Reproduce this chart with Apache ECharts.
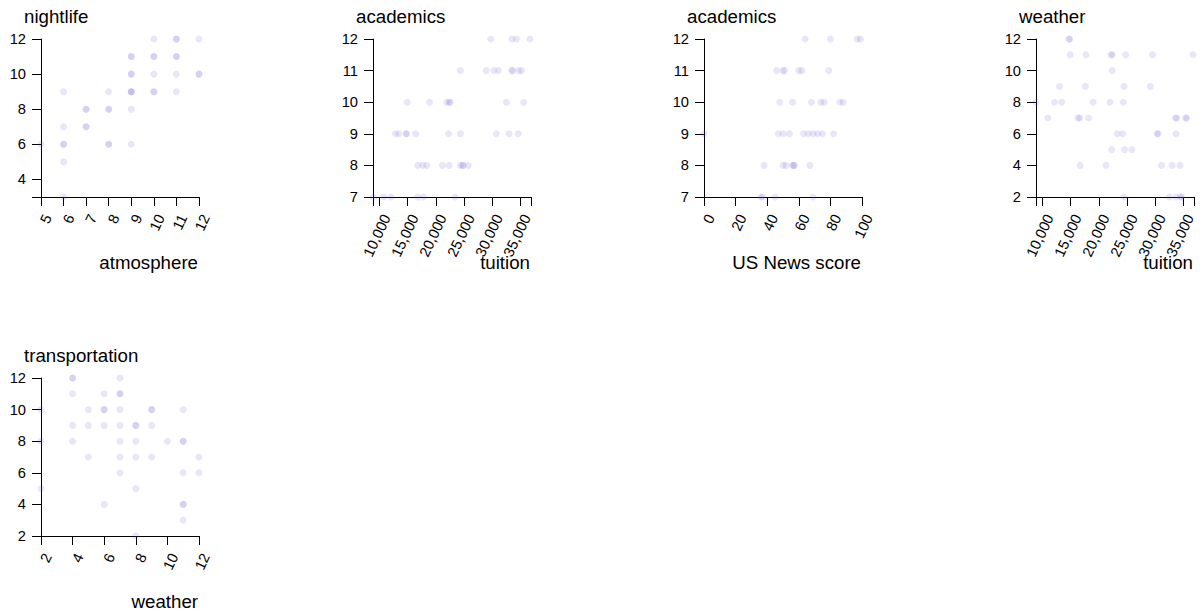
<!DOCTYPE html>
<html>
<head>
<meta charset="utf-8">
<script src="https://cdn.jsdelivr.net/npm/echarts@6/dist/echarts.min.js"></script>
<style>
html,body{margin:0;padding:0;background:#fff;}
#chart{width:1203px;height:613px;}
</style>
</head>
<body>
<div id="chart"></div>
<script>
// ---- data: [x, y] pairs per panel ----
const atmosphereNightlife = [
  [5,6],[6,9],[6,7],[6,6],[6,6],[6,5],[6,3],[7,8],[7,8],[7,7],[7,7],
  [8,9],[8,8],[8,8],[8,6],[8,6],[9,11],[9,11],[9,10],[9,10],[9,9],[9,9],[9,9],
  [9,8],[9,6],[10,12],[10,11],[10,11],[10,10],[10,9],[10,9],
  [11,12],[11,12],[11,11],[11,11],[11,10],[11,9],[12,12],[12,10],[12,10]
];
const tuitionAcademics = [
  [29800,12],[33600,12],[34400,12],[36800,12],
  [24400,11],[29000,11],[30400,11],[31200,11],[33600,11],[33700,11],[34800,11],[35300,11],
  [14900,10],[18900,10],[22000,10],[22400,10],[22600,10],[32600,10],[35700,10],
  [12800,9],[13400,9],[14700,9],[14800,9],[16400,9],[22300,9],[24400,9],[30800,9],[33100,9],[34700,9],
  [16800,8],[17700,8],[18400,8],[21200,8],[22400,8],[24400,8],[24800,8],[24900,8],[25800,8],
  [8800,7],[10700,7],[12000,7],[16800,7],[17800,7],[23400,7]
];
const scoreAcademics = [
  [64,12],[80,12],[97,12],[99,12],
  [46,11],[50,11],[51,11],[60,11],[62,11],[79,11],
  [48,10],[56,10],[68,10],[74,10],[76,10],[86,10],[88,10],
  [0,9],[47,9],[50,9],[54,9],[63,9],[66,9],[69,9],[72,9],[75,9],[82,9],
  [38,8],[50,8],[52,8],[56,8],[57,8],[57,8],[67,8],
  [36,7],[37,7],[45,7],[69,7]
];
const tuitionWeather = [
  [14700,12],[14800,12],
  [14900,11],[17700,11],[22200,11],[22400,11],[24800,11],[29600,11],[36800,11],
  [22400,10],
  [13000,9],[17600,9],[24500,9],[29200,9],
  [8800,8],[12100,8],[13400,8],[19000,8],[22000,8],[24400,8],
  [10900,7],[16300,7],[16600,7],[18200,7],[33700,7],[33900,7],[35500,7],[35700,7],
  [23300,6],[24300,6],[30400,6],[30600,6],[33800,6],
  [22300,5],[24600,5],[25900,5],
  [16700,4],[21300,4],[31200,4],[33100,4],[34500,4],
  [24500,2],[32600,2],[33800,2],[34600,2],[34800,2]
];
const weatherTransportation = [
  [2,10],[2,8],[2,5],[4,12],[4,12],[4,11],[4,9],[4,8],[5,10],[5,9],[5,7],
  [6,11],[6,10],[6,10],[6,9],[6,4],[7,12],[7,11],[7,11],[7,10],[7,9],[7,8],[7,7],[7,6],
  [8,9],[8,9],[8,8],[8,7],[8,5],[8,2],[9,10],[9,10],[9,9],[9,7],[10,8],
  [11,10],[11,8],[11,8],[11,6],[11,4],[11,4],[11,3],[12,7],[12,6]
];

// ---- tick labels ----
const atmosphereTicks = [5,6,7,8,9,10,11,12];
const nightlifeTicks = [4,6,8,10,12];
const tuitionTicks = [10000,15000,20000,25000,30000,35000];
const academicsTicks = [7,8,9,10,11,12];
const scoreTicks = [0,20,40,60,80,100];
const weatherTicks = [2,4,6,8,10,12];
const transportationTicks = [2,4,6,8,10,12];

const panels = [
  {data: atmosphereNightlife, xName: 'atmosphere', yName: 'nightlife',
   xDomain: [5,12], yDomain: [3,12], xTicks: atmosphereTicks, yTicks: nightlifeTicks},
  {data: tuitionAcademics, xName: 'tuition', yName: 'academics',
   xDomain: [8800,37000], yDomain: [7,12], xTicks: tuitionTicks, yTicks: academicsTicks},
  {data: scoreAcademics, xName: 'US News score', yName: 'academics',
   xDomain: [0,100], yDomain: [7,12], xTicks: scoreTicks, yTicks: academicsTicks},
  {data: tuitionWeather, xName: 'tuition', yName: 'weather',
   xDomain: [8800,37000], yDomain: [2,12], xTicks: tuitionTicks, yTicks: weatherTicks},
  {data: weatherTransportation, xName: 'weather', yName: 'transportation',
   xDomain: [2,12], yDomain: [2,12], xTicks: weatherTicks, yTicks: transportationTicks}
];

// ---- layout ----
const SIZE = 158;
const positions = [
  {left: 41, top: 39}, {left: 373, top: 39}, {left: 704, top: 39},
  {left: 1036, top: 39}, {left: 41, top: 378}
];
const FONT = "'Liberation Sans', Arial, sans-serif";
const fmt = v => Number(v).toLocaleString('en-US');

const grids = [], xAxes = [], yAxes = [], series = [], graphics = [];
panels.forEach((p, i) => {
  const pos = positions[i];
  grids.push({left: pos.left, top: pos.top, width: SIZE, height: SIZE, containLabel: false});
  const tickVals = (dom, ticks) => Array.from(new Set([dom[0], ...ticks, dom[1]]));
  const axisCommon = {
    axisLine: {show: true, onZero: false, lineStyle: {color: '#000', width: 1}},
    axisTick: {show: true, length: 9, lineStyle: {color: '#000', width: 1}},
    splitLine: {show: false},
    axisLabel: {color: '#000', fontFamily: FONT, fontSize: 14.7}
  };
  xAxes.push({
    type: 'value', gridIndex: i, min: p.xDomain[0], max: p.xDomain[1],
    axisLine: axisCommon.axisLine, splitLine: axisCommon.splitLine,
    axisTick: Object.assign({}, axisCommon.axisTick, {customValues: tickVals(p.xDomain, p.xTicks)}),
    axisLabel: Object.assign({}, axisCommon.axisLabel, {
      customValues: p.xTicks, rotate: 65, margin: 15, formatter: fmt,
      align: 'right', verticalAlign: 'top',
      showMinLabel: true, showMaxLabel: true
    })
  });
  yAxes.push({
    type: 'value', gridIndex: i, min: p.yDomain[0], max: p.yDomain[1],
    axisLine: axisCommon.axisLine, splitLine: axisCommon.splitLine,
    axisTick: Object.assign({}, axisCommon.axisTick, {customValues: tickVals(p.yDomain, p.yTicks)}),
    axisLabel: Object.assign({}, axisCommon.axisLabel, {
      customValues: p.yTicks, margin: 15, formatter: fmt
    })
  });
  series.push({
    type: 'scatter', xAxisIndex: i, yAxisIndex: i, data: p.data,
    symbol: 'circle', symbolSize: 7, clip: false,
    itemStyle: {color: 'slateblue', opacity: 0.15},
    emphasis: {disabled: true}, silent: true
  });
  graphics.push({
    type: 'text', left: pos.left - 17, top: pos.top - 32,
    style: {text: p.yName, fontFamily: FONT, fontSize: 18.7, fill: '#000'}
  });
  graphics.push({
    type: 'text', right: 1203 - (pos.left + SIZE - 1), top: pos.top + 214,
    style: {text: p.xName, fontFamily: FONT, fontSize: 18.7, fill: '#000'}
  });
});

const chart = echarts.init(document.getElementById('chart'), null, {renderer: 'svg'});
chart.setOption({
  animation: false,
  backgroundColor: '#fff',
  grid: grids,
  xAxis: xAxes,
  yAxis: yAxes,
  series: series,
  graphic: graphics
});
</script>
</body>
</html>
